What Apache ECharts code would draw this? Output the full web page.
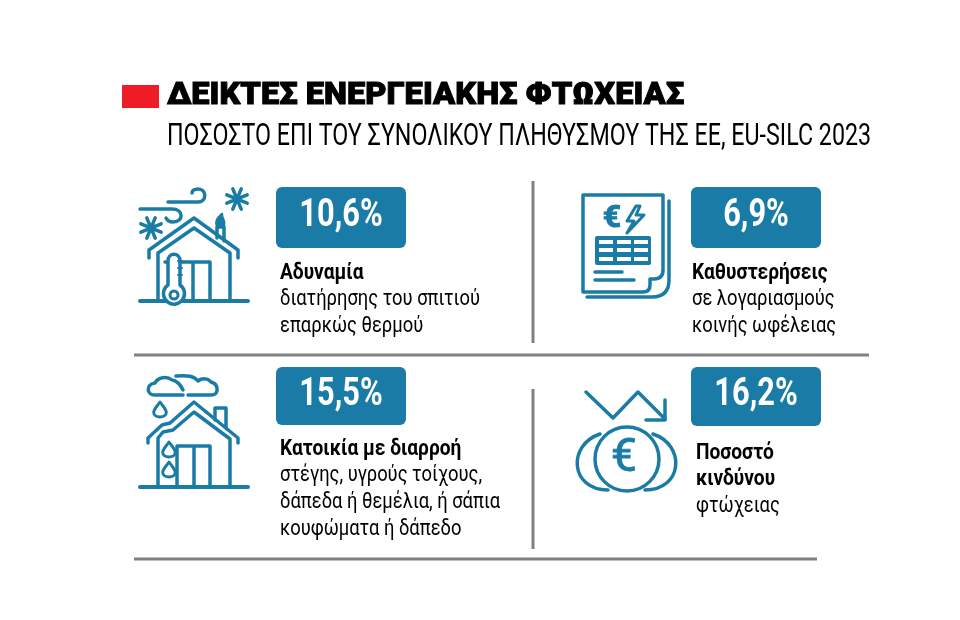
<!DOCTYPE html>
<html>
<head>
<meta charset="utf-8">
<style>
  html, body { margin: 0; padding: 0; background: #fff; }
  #main { width: 960px; height: 620px; }
</style>
<script src="https://cdn.jsdelivr.net/npm/echarts@6/dist/echarts.min.js"></script>
</head>
<body>
<div id="main"></div>
<script>
// data
const titleText = 'ΔΕΙΚΤΕΣ ΕΝΕΡΓΕΙΑΚΗΣ ΦΤΩΧΕΙΑΣ';
const subtitleText = 'ΠΟΣΟΣΤΟ ΕΠΙ ΤΟΥ ΣΥΝΟΛΙΚΟΥ ΠΛΗΘΥΣΜΟΥ ΤΗΣ ΕΕ, EU-SILC 2023';
const values = [10.6, 6.9, 15.5, 16.2];
const boldLines = [['Αδυναμία'], ['Καθυστερήσεις'], ['Κατοικία με διαρροή'], ['Ποσοστό', 'κινδύνου']];
const plainLines = [
  ['διατήρησης του σπιτιού', 'επαρκώς θερμού'],
  ['σε λογαριασμούς', 'κοινής ωφέλειας'],
  ['στέγης, υγρούς τοίχους,', 'δάπεδα ή θεμέλια, ή σάπια', 'κουφώματα ή δάπεδο'],
  ['φτώχειας']
];

// layout
const BLUE = '#1a7ca6';
const GRAY = '#808080';
const FONT = 'Roboto, "Noto Sans", sans-serif';
const tiles = [
  { x: 276, y: 187, h: 61 },
  { x: 691, y: 187, h: 61 },
  { x: 276, y: 367, h: 58 },
  { x: 691, y: 367, h: 59 }
];
const textPos = [
  { x: 280, y: 273 },
  { x: 692, y: 273 },
  { x: 280, y: 449 },
  { x: 696, y: 453 }
];
const LINE_H = 26.8;
const rules = [
  [533, 181, 533, 343],
  [134, 355, 869, 355],
  [533, 389, 533, 549],
  [134, 559, 817, 559]
];

const elements = [];
let shapeCount = 0;

function addText(text, x, y, font, fill, scaleX, align, heavy) {
  elements.push({
    type: 'text', x: x, y: y, scaleX: scaleX, silent: true,
    style: {
      text: text, font: font, fill: fill, align: align || 'left', verticalAlign: 'middle',
      stroke: heavy ? fill : null, lineWidth: heavy || 0
    }
  });
}
// the graphic component has no plain path type, so register each outline as a shape
function addStroke(d, w, fill) {
  const name = 'iconPath' + (shapeCount++);
  echarts.graphic.registerShape(name, echarts.graphic.extendPath(d));
  elements.push({
    type: name, silent: true,
    style: { stroke: BLUE, lineWidth: w || 3.5, fill: fill || 'none', lineCap: 'round', lineJoin: 'round' }
  });
}
function addRect(x, y, w, h, fill, r) {
  elements.push({
    type: 'rect', silent: true,
    shape: { x: x, y: y, width: w, height: h, r: r || 0 },
    style: { fill: fill }
  });
}
function addFlake(cx, cy, r) {
  let d = '';
  for (let i = 0; i < 4; i++) {
    const a = Math.PI * i / 4 + Math.PI / 8;
    const dx = Math.cos(a) * r, dy = Math.sin(a) * r;
    d += 'M' + (cx - dx) + ',' + (cy - dy) + ' L' + (cx + dx) + ',' + (cy + dy) + ' ';
  }
  addStroke(d, 3.5);
}
function drop(x, y, h) {
  const w = h * 0.42;
  return 'M' + x + ',' + y + ' C' + (x + w * 0.5) + ',' + (y + h * 0.3) + ' ' + (x + w) + ',' + (y + h * 0.5) + ' ' + (x + w) + ',' + (y + h * 0.68) +
    ' C' + (x + w) + ',' + (y + h * 1.1) + ' ' + (x - w) + ',' + (y + h * 1.1) + ' ' + (x - w) + ',' + (y + h * 0.68) +
    ' C' + (x - w) + ',' + (y + h * 0.5) + ' ' + (x - w * 0.5) + ',' + (y + h * 0.3) + ' ' + x + ',' + y + ' Z';
}

// header
addRect(122, 85, 37, 23, '#ee1c25');
addText(titleText, 167, 96, '900 32px ' + FONT, '#000', 1.02, 'left', 1);
addText(subtitleText, 167, 137, '400 32px ' + FONT, '#000', 0.727);

// rules
rules.forEach(function (r) {
  elements.push({
    type: 'line', silent: true,
    shape: { x1: r[0], y1: r[1], x2: r[2], y2: r[3] },
    style: { stroke: GRAY, lineWidth: 3 }
  });
});

// value tiles and captions
values.forEach(function (v, i) {
  const t = tiles[i];
  addRect(t.x, t.y, 130, t.h, BLUE, 6);
  addText(v.toFixed(1).replace('.', ',') + '%', t.x + 65, t.y + t.h / 2 - 1, '700 39px ' + FONT, '#fff', 0.79, 'center');
  let y = textPos[i].y;
  boldLines[i].forEach(function (s) {
    addText(s, textPos[i].x, y, '700 22px ' + FONT, '#000', 0.87);
    y += LINE_H;
  });
  plainLines[i].forEach(function (s) {
    addText(s, textPos[i].x, y, '400 22px ' + FONT, '#000', 0.835);
    y += LINE_H;
  });
});

// icon: cold house
addStroke('M168,202 L198,202 C207,202 207,189 198,189 C194,189 192,191 192,193');
addStroke('M140,209 L172,209 C184,209 184,222 173,222 C170,222 167,220 166,218');
addFlake(237, 199, 11);
addFlake(151, 228, 11);
addStroke('M149,258 L149,250 L194,218 L238,250 L238,258');
addStroke('M158,253 L158,301 M230,253 L230,301 M158,253 L194,228 L230,253');
addStroke('M165,262 L210,262 L210,301 M193,262 L193,301');
addStroke('M217,238 L217,227 L224,227 L224,241');
addStroke('M217,226 C215,220 218,218 222,214 C221,219 226,220 224,226', 2.5, BLUE);
addStroke('M140,301 L248,301', 4);
addStroke('M168,285 L168,261 C168,252 180,252 180,261 L180,285 A10.5,10.5 0 1,1 168,285 Z', 3.5, '#fff');
addStroke('M178,261 L182,261 M178,268 L182,268 M178,275 L182,275', 2);
elements.push({
  type: 'circle', silent: true, shape: { cx: 174, cy: 295, r: 4 },
  style: { stroke: BLUE, lineWidth: 3, fill: '#fff' }
});

// icon: bills
addStroke('M583,195 L663,195 L663,270 Q663,279 654,279 L650,279 L650,285 Q650,292 643,292 L583,292 Z');
addStroke('M669,201 L669,280 Q669,297 652,297 L587,297');
addRect(595, 236, 56, 29, BLUE, 2);
[240, 248, 257].forEach(function (y) {
  [599, 617, 634].forEach(function (x) {
    addRect(x, y, 14, 4, '#fff');
  });
});
addStroke('M595,272 L622,272 M595,280 L634,280');
addText('€', 612, 219, '700 32px ' + FONT, BLUE, 1, 'center', 1);
addStroke('M636,206 L627,221 L634,221 L627,233 L644,215 L636,215 L640,206 Z', 3);

// icon: leaking house
addStroke('M183,395 L155,395 C146,395 146,384 155,383 C158,377 167,376 172,380 C176,380 181,385 183,390');
addStroke('M188,395 L212,395 C219,395 219,384 211,382 C208,378 202,378 198,381 C194,376 188,375 176,376');
addStroke(drop(160, 402, 15), 3);
addStroke(drop(169, 442, 15), 3);
addStroke(drop(169, 462, 15), 3);
addStroke('M148,443 L148,438 L162,425 L170,423 L194,402 L238,438 L238,443');
addStroke('M158,487 L158,438 L163,432 L173,430 L194,412 L230,439 L230,487');
addStroke('M215,420 L215,408 L226,408 L226,428');
addStroke('M177,487 L177,446 L210,446 L210,487 M194,446 L194,487');
addStroke('M140,487 L248,487', 4);

// icon: coins
addStroke('M586,392 L613,418 L638,392 L665,419');
addStroke('M665,400 L665,420 L646,420');
elements.push({
  type: 'circle', silent: true, shape: { cx: 627, cy: 459, r: 32 },
  style: { stroke: BLUE, lineWidth: 3.5, fill: 'none' }
});
addStroke('M600,434 C567,445 570,490 608,490');
addStroke('M653,434 C686,445 683,490 645,490');
addText('€', 624, 459, '400 46px ' + FONT, BLUE, 1, 'center', 0.8);

const chart = echarts.init(document.getElementById('main'), null, { renderer: 'canvas' });
chart.setOption({
  backgroundColor: '#fff',
  animation: false,
  graphic: { elements: elements }
});
</script>
</body>
</html>
